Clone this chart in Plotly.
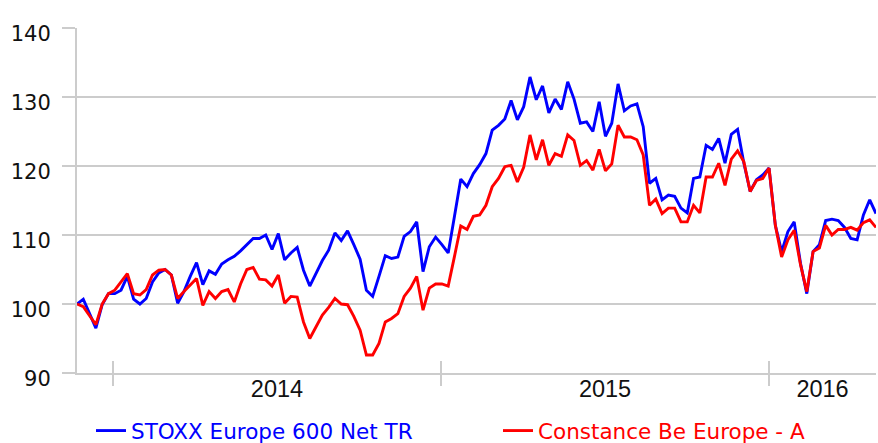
import plotly.graph_objects as go
import pandas as pd

start_date = "2013-11-22"

stoxx = [
    100.0, 100.7, 98.6, 96.5, 99.9, 101.5, 101.5, 102.0, 104.0, 100.7,
    100.0, 100.8, 103.2, 104.5, 105.0, 104.2, 100.1, 101.8, 104.0, 106.0,
    102.8, 104.8, 104.3, 105.8, 106.4, 106.9, 107.7, 108.6, 109.5, 109.5,
    110.0, 107.9, 110.2, 106.4, 107.4, 108.2, 104.9, 102.6, 104.4, 106.3,
    107.8, 110.3, 109.2, 110.6, 108.6, 106.5, 102.0, 101.1, 104.0, 107.0,
    106.6, 106.8, 109.8, 110.5, 111.9, 104.7, 108.3, 109.7, 108.6, 107.4,
    112.7, 118.1, 117.0, 118.9, 120.2, 121.8, 125.2, 125.9, 126.8, 129.5,
    126.7, 128.6, 132.9, 129.6, 131.6, 127.7, 129.7, 128.2, 132.2, 129.7,
    126.2, 126.4, 125.0, 129.3, 124.3, 126.2, 131.9, 128.0, 128.7, 129.0,
    125.7, 117.5, 118.2, 115.1, 115.8, 115.6, 113.9, 113.2, 118.2, 118.4,
    123.0, 122.4, 124.0, 120.4, 124.6, 125.3, 120.4, 116.3, 118.0, 118.7,
    119.7, 111.4, 107.6, 110.5, 111.9, 105.9, 101.5, 107.6, 108.6, 112.1,
    112.3, 112.1, 111.1, 109.5, 109.3, 112.9, 115.1, 113.1,
]

constance = [
    100.0, 99.6, 98.3, 97.0, 100.0, 101.5, 102.0, 103.2, 104.4, 101.5,
    101.3, 102.1, 104.2, 104.9, 105.0, 104.2, 100.8, 101.8, 102.8, 103.7,
    99.8, 101.8, 100.8, 101.8, 102.1, 100.3, 102.9, 105.0, 105.3, 103.6,
    103.5, 102.6, 104.2, 100.1, 101.1, 101.0, 97.4, 95.0, 96.7, 98.4,
    99.5, 100.8, 100.0, 99.9, 98.2, 96.2, 92.6, 92.6, 94.3, 97.4,
    97.9, 98.6, 101.1, 102.3, 104.0, 99.1, 102.3, 102.9, 102.9, 102.6,
    106.9, 111.3, 110.8, 112.7, 112.9, 114.3, 117.0, 118.2, 119.9, 120.1,
    117.7, 119.8, 124.5, 120.9, 123.8, 120.1, 121.8, 121.4, 124.5, 123.7,
    120.1, 120.8, 119.4, 122.4, 119.3, 120.3, 125.9, 124.2, 124.2, 123.8,
    121.6, 114.3, 115.2, 113.1, 113.9, 113.9, 111.9, 111.9, 114.3, 113.2,
    118.4, 118.4, 120.4, 117.2, 121.0, 122.2, 120.6, 116.3, 117.9, 118.2,
    119.7, 111.4, 106.8, 109.3, 110.7, 105.7, 101.8, 107.6, 108.1, 111.4,
    110.0, 110.8, 110.8, 111.1, 110.7, 111.8, 112.2, 111.1,
]

series_names = ["STOXX Europe 600 Net TR", "Constance Be Europe - A"]
series_colors = ["#0000ff", "#ff0000"]
y_ticks = [90, 100, 110, 120, 130, 140]
year_labels = ["2014", "2015", "2016"]

dates = pd.date_range(start_date, periods=len(stoxx), freq="7D")
d0, d1 = dates[0], dates[-1]

# year boundaries (tick marks) and centre of the visible part of each year (labels)
year_starts = [pd.Timestamp(f"{y}-01-01") for y in year_labels]
label_pos = []
for y in year_labels:
    a = max(pd.Timestamp(f"{y}-01-01"), d0)
    b = min(pd.Timestamp(f"{int(y) + 1}-01-01"), d1)
    label_pos.append(a + (b - a) / 2)

GRID = "#cccccc"

fig = go.Figure()
for i, (vals, name, col) in enumerate(zip([stoxx, constance], series_names, series_colors)):
    fig.add_trace(go.Scatter(
        x=dates, y=vals, mode="lines",
        name=f"<span style='color:{col}'>{name}</span>",
        line=dict(color=col, width=2.9), hoverinfo="skip",
        legend="legend" if i == 0 else "legend2",
    ))

# helper traces so overlay axes (year tick marks crossing the axis) are drawn
for ax in ["x2", "x3"]:
    fig.add_trace(go.Scatter(x=[d0], y=[None], xaxis=ax, showlegend=False,
                             hoverinfo="skip", mode="lines"))

legend_common = dict(orientation="h", xref="container", yref="container",
                     yanchor="middle", xanchor="left", y=0.028,
                     font=dict(family="DejaVu Sans", size=21.5),
                     itemwidth=30, bgcolor="rgba(0,0,0,0)")

tick_axis = dict(overlaying="x", matches="x", anchor="y", side="bottom",
                 tickvals=year_starts, ticklen=12, tickwidth=2, tickcolor=GRID,
                 showticklabels=False, showgrid=False, showline=False, zeroline=False)

fig.update_layout(
    width=878, height=443,
    margin=dict(l=77, r=2, t=28, b=70, autoexpand=False),
    paper_bgcolor="white", plot_bgcolor="white",
    showlegend=True,
    legend=dict(legend_common, x=91 / 878),
    legend2=dict(legend_common, x=498 / 878),
    xaxis=dict(
        range=[d0, d1],
        tickvals=label_pos, ticktext=year_labels,
        ticks="", showgrid=False, showline=True, linecolor=GRID, linewidth=2,
        tickfont=dict(family="Liberation Sans, Arial", size=23.5, color="#111111"),
        ticklabelstandoff=-6, zeroline=False,
    ),
    xaxis2=dict(tick_axis, ticks="outside"),
    xaxis3=dict(tick_axis, ticks="inside"),
    yaxis=dict(
        range=[90, 140], tickvals=y_ticks,
        ticks="outside", ticklen=13, tickwidth=2, tickcolor=GRID,
        showgrid=True, gridcolor=GRID, gridwidth=2,
        showline=True, linecolor=GRID, linewidth=2, zeroline=False,
        tickfont=dict(family="DejaVu Sans", size=21, color="#111111"),
        ticklabelstandoff=7, ticklabelshift=6,
    ),
)

fig.write_html(
    "out.html",
    config={"displayModeBar": False},
    post_script="document.body.style.margin='0';document.body.style.overflow='hidden';",
)
